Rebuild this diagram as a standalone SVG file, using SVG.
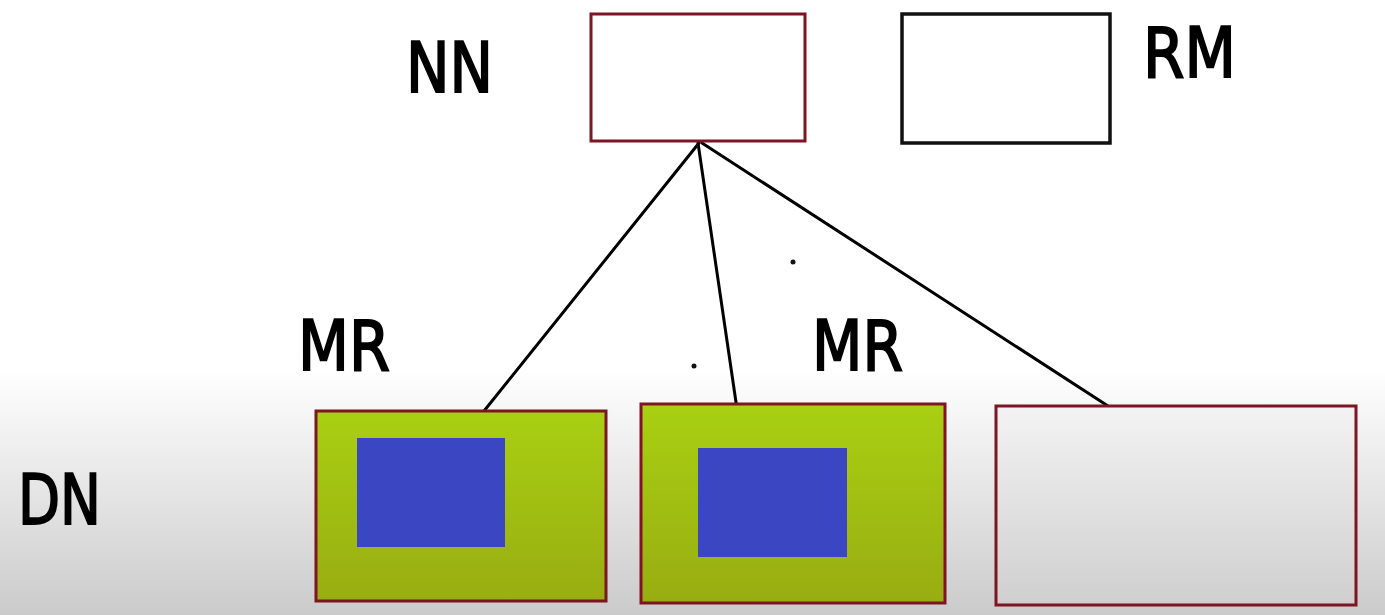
<svg xmlns="http://www.w3.org/2000/svg" width="1385" height="615" viewBox="0 0 1385 615">
<defs>
<linearGradient id="bg" x1="0" y1="0" x2="0" y2="1">
<stop offset="0" stop-color="#ffffff"/>
<stop offset="0.6" stop-color="#ffffff"/>
<stop offset="1" stop-color="#cbcbcb"/>
</linearGradient>
<linearGradient id="green" x1="0" y1="0" x2="0" y2="1">
<stop offset="0" stop-color="#a9d012"/>
<stop offset="1" stop-color="#98ad12"/>
</linearGradient>
<linearGradient id="gray" x1="0" y1="0" x2="0" y2="1">
<stop offset="0" stop-color="#f3f3f3"/>
<stop offset="1" stop-color="#cfcfcf"/>
</linearGradient>
<style>
.lbl{font-family:"DejaVu Sans","Liberation Sans",sans-serif;font-size:70px;fill:#000;stroke:#000;stroke-width:2;}
.red{stroke:#7d1523;stroke-width:3;}
.blue{fill:#3a46c2;}
.conn{stroke:#000;stroke-width:3;fill:none;stroke-linecap:round;}
</style>
</defs>
<rect x="0" y="0" width="1385" height="615" fill="url(#bg)"/>
<g id="labels">
<text class="lbl" x="406" y="92" textLength="87" lengthAdjust="spacingAndGlyphs">NN</text>
<text class="lbl" x="1143" y="77" textLength="93" lengthAdjust="spacingAndGlyphs">RM</text>
<text class="lbl" x="298" y="370" textLength="92" lengthAdjust="spacingAndGlyphs">MR</text>
<text class="lbl" x="812" y="370" textLength="91" lengthAdjust="spacingAndGlyphs">MR</text>
<text class="lbl" x="18" y="524" textLength="83" lengthAdjust="spacingAndGlyphs">DN</text>
</g>
<g id="connectors">
<line class="conn" x1="699" y1="143" x2="484" y2="411"/>
<line class="conn" x1="698" y1="143" x2="737" y2="409"/>
<line class="conn" x1="702" y1="143" x2="1108" y2="406"/>
</g>
<g id="nn"><rect class="red" x="591" y="14" width="214" height="127" fill="#fff"/></g>
<g id="rm"><rect x="902" y="14" width="208" height="129" fill="#fff" stroke="#111" stroke-width="3.5"/></g>
<g id="dn1">
<rect class="red" x="316" y="411" width="290" height="190" fill="url(#green)"/>
<rect class="blue" x="357" y="438" width="148" height="109"/>
</g>
<g id="dn2">
<rect class="red" x="641" y="404" width="304" height="199" fill="url(#green)"/>
<rect class="blue" x="698" y="448" width="149" height="109"/>
</g>
<g id="dn3"><rect class="red" x="996" y="406" width="360" height="199" fill="url(#gray)"/></g>
<circle cx="793" cy="262" r="2.5" fill="#111"/>
<circle cx="694" cy="366" r="2.5" fill="#111"/>
</svg>
